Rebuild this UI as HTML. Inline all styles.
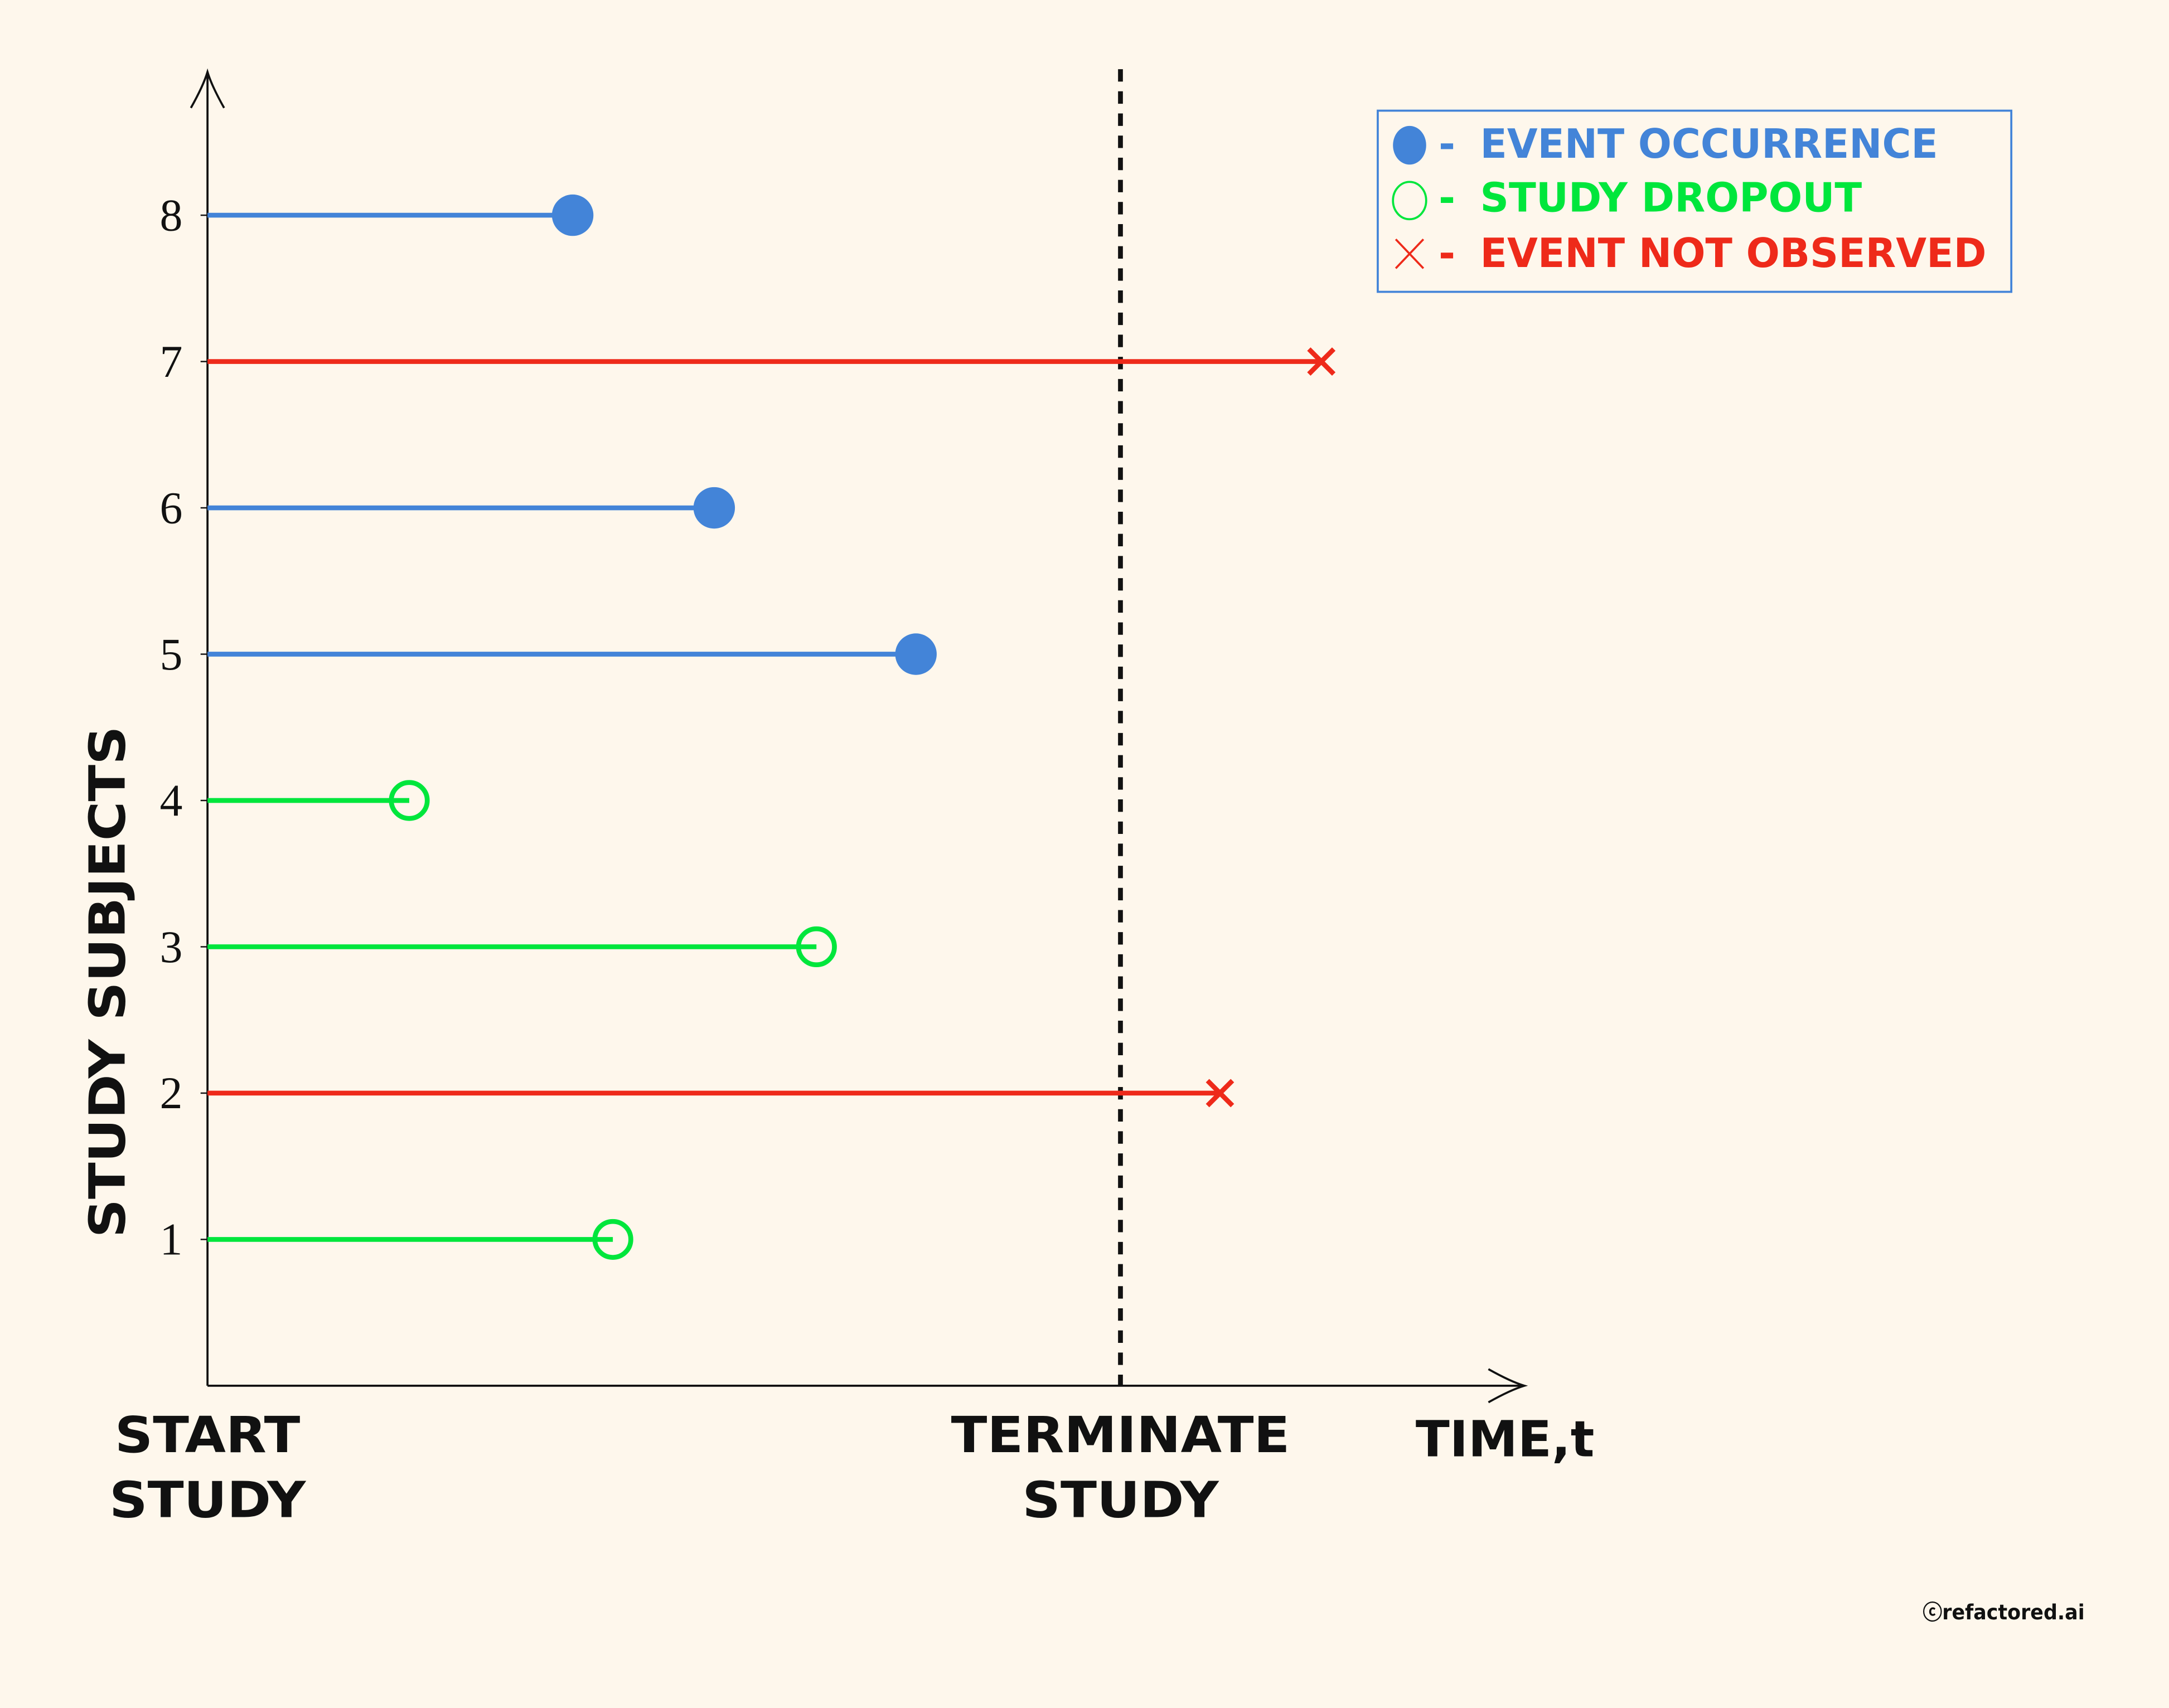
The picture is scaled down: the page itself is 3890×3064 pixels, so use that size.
<!DOCTYPE html>
<html><head><meta charset="utf-8"><style>html,body{margin:0;padding:0;background:#fef7ec}svg{display:block}</style></head>
<body>
<svg id="chart" width="3890" height="3064" viewBox="0 0 1568 1235" xmlns="http://www.w3.org/2000/svg">
<rect x="0" y="0" width="1568" height="1235" fill="#fef7ec"/>
<g id="plot"></g>
<g font-family="DejaVu Sans, Liberation Sans, sans-serif" font-weight="bold" font-size="29">
<rect x="996" y="80" width="458" height="131" fill="#fef7ec" stroke="#4384d8" stroke-width="1.5"/>
<ellipse cx="1019" cy="105" rx="12" ry="14" fill="#4384d8"/>
<text x="1040" y="114" fill="#4384d8">- <tspan x="1070" textLength="331" lengthAdjust="spacingAndGlyphs">EVENT OCCURRENCE</tspan></text>
<ellipse cx="1019" cy="145" rx="12" ry="13.5" fill="none" stroke="#00e63c" stroke-width="1.5"/>
<text x="1040" y="153" fill="#00e63c">- <tspan x="1070" textLength="276" lengthAdjust="spacingAndGlyphs">STUDY DROPOUT</tspan></text>
<path d="M1009 173 L1029 194 M1029 173 L1009 194" stroke="#ee2a1a" stroke-width="1.5"/>
<text x="1040" y="193" fill="#ee2a1a">- <tspan x="1070" textLength="366" lengthAdjust="spacingAndGlyphs">EVENT NOT OBSERVED</tspan></text>
</g>
<g font-family="DejaVu Sans, Liberation Sans, sans-serif" font-weight="bold" font-size="36" fill="#111" text-anchor="middle">
<text transform="translate(90,710) rotate(-90)" textLength="370" lengthAdjust="spacingAndGlyphs">STUDY SUBJECTS</text>
<text x="150" y="1050" textLength="134" lengthAdjust="spacingAndGlyphs">START</text>
<text x="150" y="1097" textLength="142" lengthAdjust="spacingAndGlyphs">STUDY</text>
<text x="810" y="1050" textLength="245" lengthAdjust="spacingAndGlyphs">TERMINATE</text>
<text x="810" y="1097" textLength="142" lengthAdjust="spacingAndGlyphs">STUDY</text>
<text x="1088" y="1053">TIME,t</text>
</g>
<text x="1390" y="1171" font-family="DejaVu Sans, Liberation Sans, sans-serif" font-weight="bold" font-size="15" fill="#111" textLength="117" lengthAdjust="spacingAndGlyphs">ⓒrefactored.ai</text>
</svg>
<script>
const subjects = [1,2,3,4,5,6,7,8];
const endTimes = [4.44,11.09,6.67,2.21,7.76,5.55,12.2,4.0];
const outcomes = ['dropout','notobs','dropout','dropout','event','event','notobs','event'];
const yTicks = ['1','2','3','4','5','6','7','8'];
const terminateTime = 10;
const NS='http://www.w3.org/2000/svg';
const x0=150, y0=1002, pxPerT=66, pxPerS=105.8;
const xs=t=>x0+t*pxPerT, ys=s=>y0-s*pxPerS;
const colors={event:'#4384d8',dropout:'#00e63c',notobs:'#ee2a1a'};
const g=document.getElementById('plot');
function mk(tag,attrs){const e=document.createElementNS(NS,tag);for(const k in attrs)e.setAttribute(k,attrs[k]);g.appendChild(e);return e;}
let e;
e=mk('path',{d:`M${x0} ${y0} L${x0} 52 M${x0-12} 78 Q${x0-3} 62 ${x0} 52 Q${x0+3} 62 ${x0+12} 78`,stroke:'#111','stroke-width':1.5,fill:'none'});


e=mk('path',{d:`M${x0} ${y0} L1102 ${y0} M1076 ${y0-12} Q1092 ${y0-3} 1102 ${y0} Q1092 ${y0+3} 1076 ${y0+12}`,stroke:'#111','stroke-width':1.5,fill:'none'});


e=mk('line',{x1:xs(terminateTime),x2:xs(terminateTime),y1:50,y2:y0,stroke:'#111','stroke-width':3.5,'stroke-dasharray':'9 7'});


subjects.forEach((s,i)=>{
  const y=ys(s);
  let t=mk('line',{x1:x0-5,x2:x0,y1:y,y2:y,stroke:'#111','stroke-width':1});
  
  
  t=mk('text',{x:132,y:y+11,'text-anchor':'end','font-family':'Liberation Serif, serif','font-size':33,fill:'#111'});
  t.textContent=yTicks[i];
  
  
  const c=colors[outcomes[i]], xe=xs(endTimes[i]);
  let l=mk('line',{x1:x0,x2:xe,y1:y,y2:y,stroke:c,'stroke-width':3.5});
  
  
  let m;
  if(outcomes[i]==='event') m=mk('circle',{cx:xe,cy:y,r:15,fill:c});
  else if(outcomes[i]==='dropout') m=mk('circle',{cx:xe,cy:y,r:13,fill:'none',stroke:c,'stroke-width':3.5});
  else m=mk('path',{d:`M${xe-9} ${y-9} L${xe+9} ${y+9} M${xe+9} ${y-9} L${xe-9} ${y+9}`,stroke:c,'stroke-width':3.5});
  
  
});
</script>
</body></html>
